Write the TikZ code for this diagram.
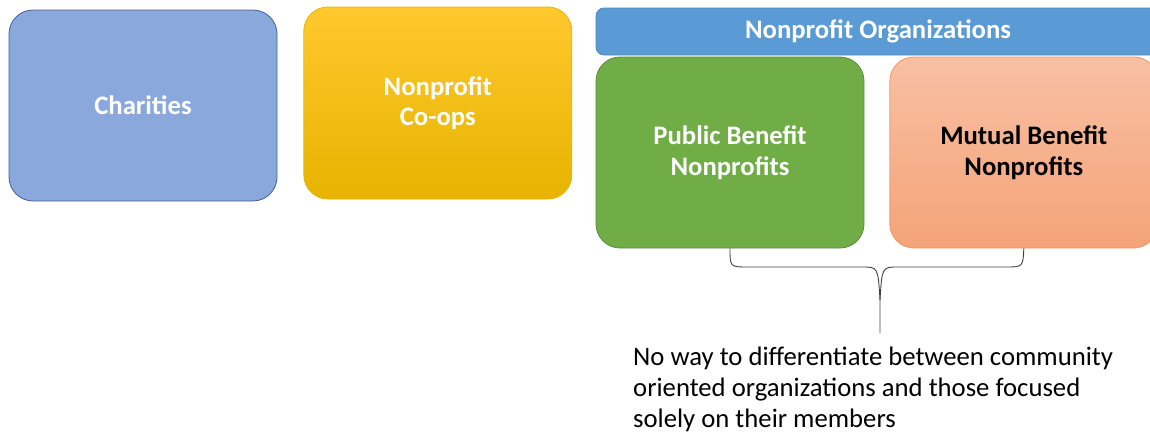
\documentclass[tikz,border=0pt]{standalone}
\usepackage{fontspec}
\setmainfont{Carlito}
\usepackage{xcolor}
\usetikzlibrary{positioning,calc}

\definecolor{chafill}{HTML}{8AA8DC}
\definecolor{chaline}{HTML}{41609A}
\definecolor{cooptop}{HTML}{FFC82E}
\definecolor{coopbot}{HTML}{E6B400}
\definecolor{orgfill}{HTML}{5B9BD5}
\definecolor{orgline}{HTML}{4F88BE}
\definecolor{pubfill}{HTML}{70AD47}
\definecolor{publine}{HTML}{5A8C3A}
\definecolor{multop}{HTML}{F8C0A3}
\definecolor{mulbot}{HTML}{F4A378}
\definecolor{mulline}{HTML}{EE9A66}
\definecolor{bracecol}{HTML}{404040}

\begin{document}
\begin{tikzpicture}[
  x=1pt,y=-1pt,
  font=\fontsize{26.7}{31}\selectfont,
  box/.style={rounded corners=24pt,align=center,minimum width=268pt,minimum height=191pt,
    text=white,font=\fontsize{26.7}{30.5}\selectfont\bfseries,line width=0.8pt},
]
\clip (0,0) rectangle (1150,434);
\useasboundingbox (0,0) rectangle (1150,434);

% left boxes
\node[box,draw=chaline,fill=chafill] (charity) at (143,105.5) {Charities};
\node[box,draw=coopbot,top color=cooptop,bottom color=coopbot,minimum height=192pt,
  right=26pt of charity.east,anchor=west,yshift=2.5pt] (coop) {Nonprofit\\Co-ops};

% nonprofit organizations group
\node[box,draw=orgline,fill=orgfill,rounded corners=8pt,minimum width=564pt,minimum height=47pt] (orgs) at (878,31.5) {Nonprofit Organizations};
\node[box,draw=publine,fill=pubfill] (pub) at (730,152.5) {Public Benefit\\Nonprofits};
\node[box,draw=mulline,top color=multop,bottom color=mulbot,text=black,
  right=25pt of pub.east,anchor=west] (mutual) {Mutual Benefit\\Nonprofits};

% brace and note
\coordinate (tip) at (880,333);
\draw[bracecol,line width=0.9pt] (pub.south) .. controls (730,267) .. (748,267) -- (862,267)
  .. controls (878,267) .. (880,300) -- (tip);
\draw[bracecol,line width=0.9pt] (mutual.south) .. controls (1023,267) .. (1005,267) -- (898,267)
  .. controls (882,267) .. (880,300);
\node[anchor=base west,align=left,inner sep=0pt] (note) at (633,427)
  {No way to differentiate between community\\oriented organizations and those focused\\solely on their members};
\end{tikzpicture}
\end{document}
